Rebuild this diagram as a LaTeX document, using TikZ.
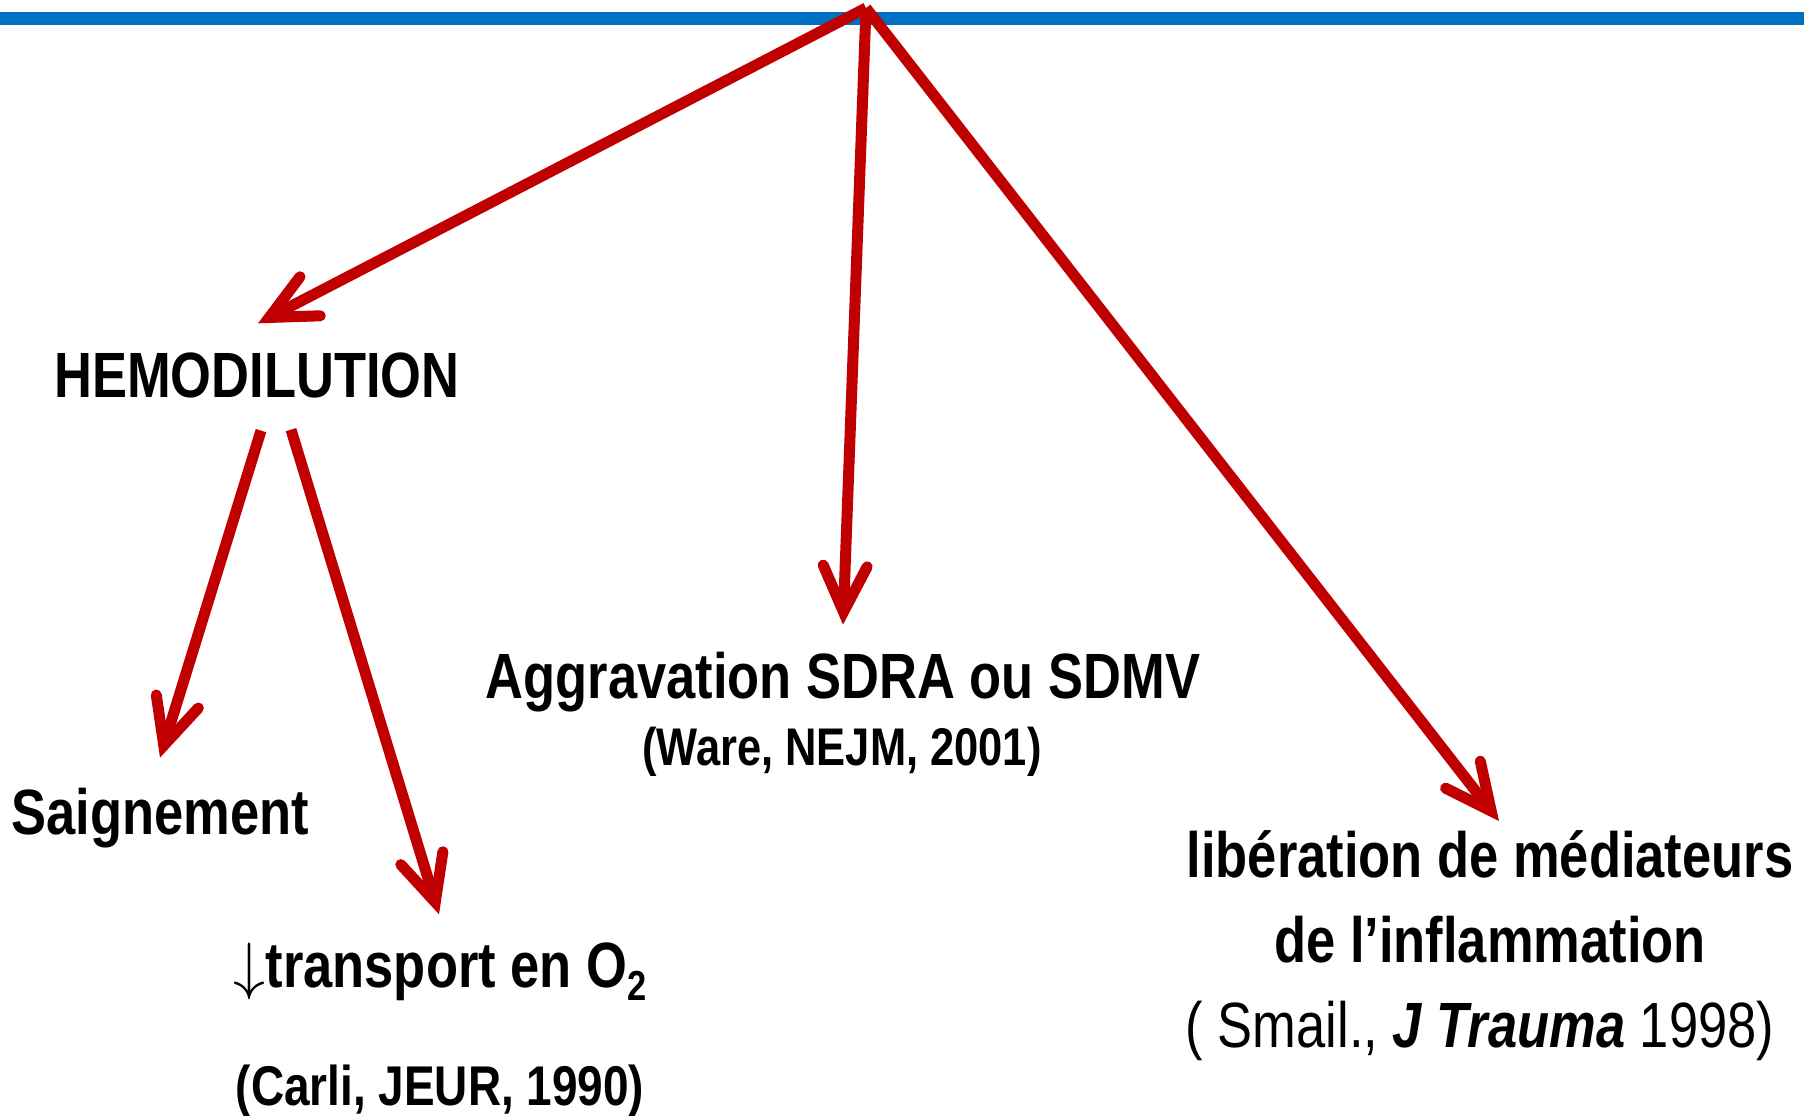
\RequirePackage{fix-cm}
\documentclass[tikz,border=0pt]{standalone}
\usepackage{fontspec}
\setmainfont{Liberation Sans}[FakeStretch=0.82]
\usetikzlibrary{arrows.meta}
\definecolor{arrred}{HTML}{C00000}
\definecolor{rulblue}{HTML}{0070C0}

\begin{document}
\begin{tikzpicture}[x=0.5pt,y=-0.5pt,
  lbl/.style={inner sep=0pt,outer sep=0pt,font=\bfseries\fontsize{32}{38}\selectfont},
  cite/.style={inner sep=0pt,outer sep=0pt,font=\bfseries\fontsize{28}{32}\selectfont},
  arr/.style={draw=arrred,line width=5.5pt,-{Straight Barb[length=23pt,width=22pt,line cap=round,line join=miter]}}]
  \useasboundingbox (0,0) rectangle (1804,1115);
  \draw[rulblue,line width=6.5pt] (0,18.5) -- (1804,18.5);
  \coordinate (top) at (866,8);
  % texts
  \node[lbl,anchor=base] (hemo) at (257,397) {HEMODILUTION};
  \node[lbl,anchor=base] (saig) at (160,834) {Saignement};
  \node[lbl,anchor=base] (trans) at (440,987)
    {$\downarrow$transport en O\raisebox{-6.5pt}{\fontsize{21}{21}\selectfont 2}};
  \node[cite,anchor=base] (carli) at (440,1105) {(Carli, JEUR, 1990)};
  \node[lbl,anchor=base] (aggr) at (843,698) {Aggravation SDRA ou SDMV};
  \node[cite,anchor=base,font=\bfseries\fontsize{26.5}{30}\selectfont] (ware) at (842,765) {(Ware, NEJM, 2001)};
  \node[lbl,anchor=north,align=center,font=\bfseries\fontsize{32}{42.5}\selectfont] (medi) at (1490,831)
    {libération de médiateurs\\de l’inflammation\\{\mdseries( Smail., \textbf{\textit{J Trauma}} 1998)\hspace*{10pt}}};
  % arrows
  \draw[arr] (top) -- ([shift={(1,-29)}]hemo.north);
  \draw[arr] (top) -- ([shift={(0,-27)}]aggr.north);
  \draw[arr] (top) -- ([shift={(9,-10)}]medi.north);
  \draw[arr] ([shift={(4,33)}]hemo.south) -- ([shift={(0,-30)}]saig.north);
  \draw[arr] ([shift={(34,32)}]hemo.south) -- ([shift={(-1,-28)}]trans.north);
\end{tikzpicture}
\end{document}
